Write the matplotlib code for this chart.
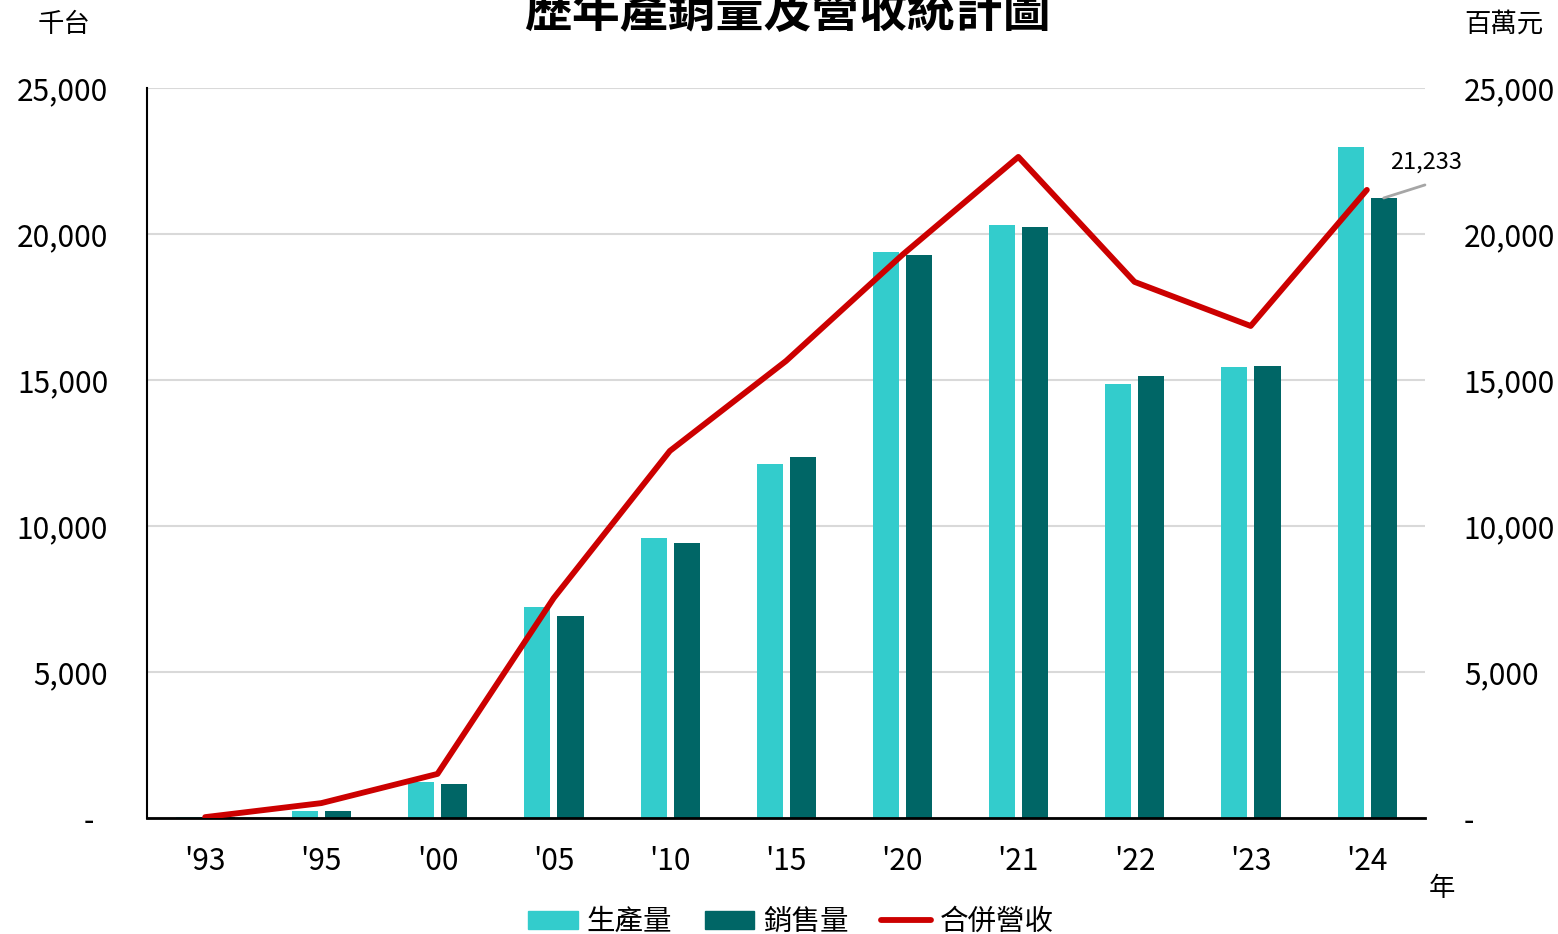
import numpy as np
from matplotlib import pyplot as plt
from matplotlib.patches import Patch
from matplotlib.lines import Line2D
from matplotlib.ticker import FuncFormatter

plt.rcParams['font.family'] = ['Noto Sans CJK TC', 'DejaVu Sans']

years = ["'93", "'95", "'00", "'05", "'10", "'15", "'20", "'21", "'22", "'23", "'24"]
production = [20, 250, 1230, 7230, 9590, 12120, 19380, 20310, 14860, 15450, 22980]
sales = [20, 250, 1150, 6920, 9420, 12360, 19280, 20240, 15140, 15480, 21233]
revenue = [30, 510, 1510, 7530, 12570, 15650, 19280, 22640, 18360, 16850, 21510]

PROD_C = '#33CCCC'
SALES_C = '#006666'
REV_C = '#CC0000'


def Fmt(v, pos):
    # accounting style: zero shown as a dash
    return '-  ' if v == 0 else '{:,.0f}'.format(v)


fig = plt.figure(figsize=(15.58, 9.34), dpi=100)
ax = fig.add_axes([0.0944, 0.1242, 0.8202, 0.7816])
x = np.arange(len(years))
w = 0.225

ax.bar(x - 0.14, production, w, color=PROD_C, zorder=2)
ax.bar(x + 0.145, sales, w, color=SALES_C, zorder=2)
ax.set_xlim(-0.5, len(years) - 0.5)
ax.set_ylim(0, 25000)
ax.set_yticks(np.arange(0, 25001, 5000))
ax.yaxis.set_major_formatter(FuncFormatter(Fmt))
ax.set_xticks(x)
ax.set_xticklabels(years)
ax.tick_params(axis='both', length=0, labelsize=21.5)
ax.tick_params(axis='y', pad=28)
ax.tick_params(axis='x', pad=20)
ax.grid(axis='y', color='#d9d9d9', linewidth=1.5, zorder=0)
ax.set_axisbelow(True)
for s in ['top', 'right']:
    ax.spines[s].set_visible(False)
ax.spines['left'].set_linewidth(1.5)
ax.spines['bottom'].set_linewidth(2)

ax2 = ax.twinx()
ax2.plot(x, revenue, color=REV_C, linewidth=4.2, solid_capstyle='round', zorder=3)
ax2.set_ylim(0, 25000)
ax2.set_yticks(np.arange(0, 25001, 5000))
ax2.yaxis.set_major_formatter(FuncFormatter(Fmt))
ax2.tick_params(axis='y', length=0, labelsize=21.5, pad=28)
for s in ['top', 'right', 'left', 'bottom']:
    ax2.spines[s].set_visible(False)

# label for latest sales with grey leader line
ax.annotate('', xy=(10 + 0.145, sales[-1]), xytext=(10.5, 21680),
            arrowprops=dict(arrowstyle='-', color='#a6a6a6', lw=2,
                            shrinkA=0, shrinkB=0),
            annotation_clip=False)
ax.text(10.2, 22470, '21,233', fontsize=17, ha='left', va='center', clip_on=False)

fig.text(0.5051, 1 - 13 / 934, '歷年產銷量及營收統計圖', fontsize=34.5, fontweight='bold',
         ha='center', va='center')
fig.text(0.024, 1 - 24 / 934, '千台', fontsize=19, ha='left', va='center')
fig.text(0.9397, 1 - 24 / 934, '百萬元', fontsize=19, ha='left', va='center')
fig.text(0.9255, 1 - 889 / 934, '年', fontsize=19, ha='center', va='center')

handles = [Patch(color=PROD_C), Patch(color=SALES_C),
           Line2D([0], [0], color=REV_C, linewidth=4.2, solid_capstyle='round')]
fig.legend(handles, ['生產量', '銷售量', '合併營收'], loc='center', ncol=3,
           bbox_to_anchor=(0.5075, 1 - 922 / 934), frameon=False, fontsize=20.5,
           handlelength=1.75, handleheight=0.6, handletextpad=0.3, columnspacing=1.15)

plt.savefig('out.png', dpi=100)
plt.close()
